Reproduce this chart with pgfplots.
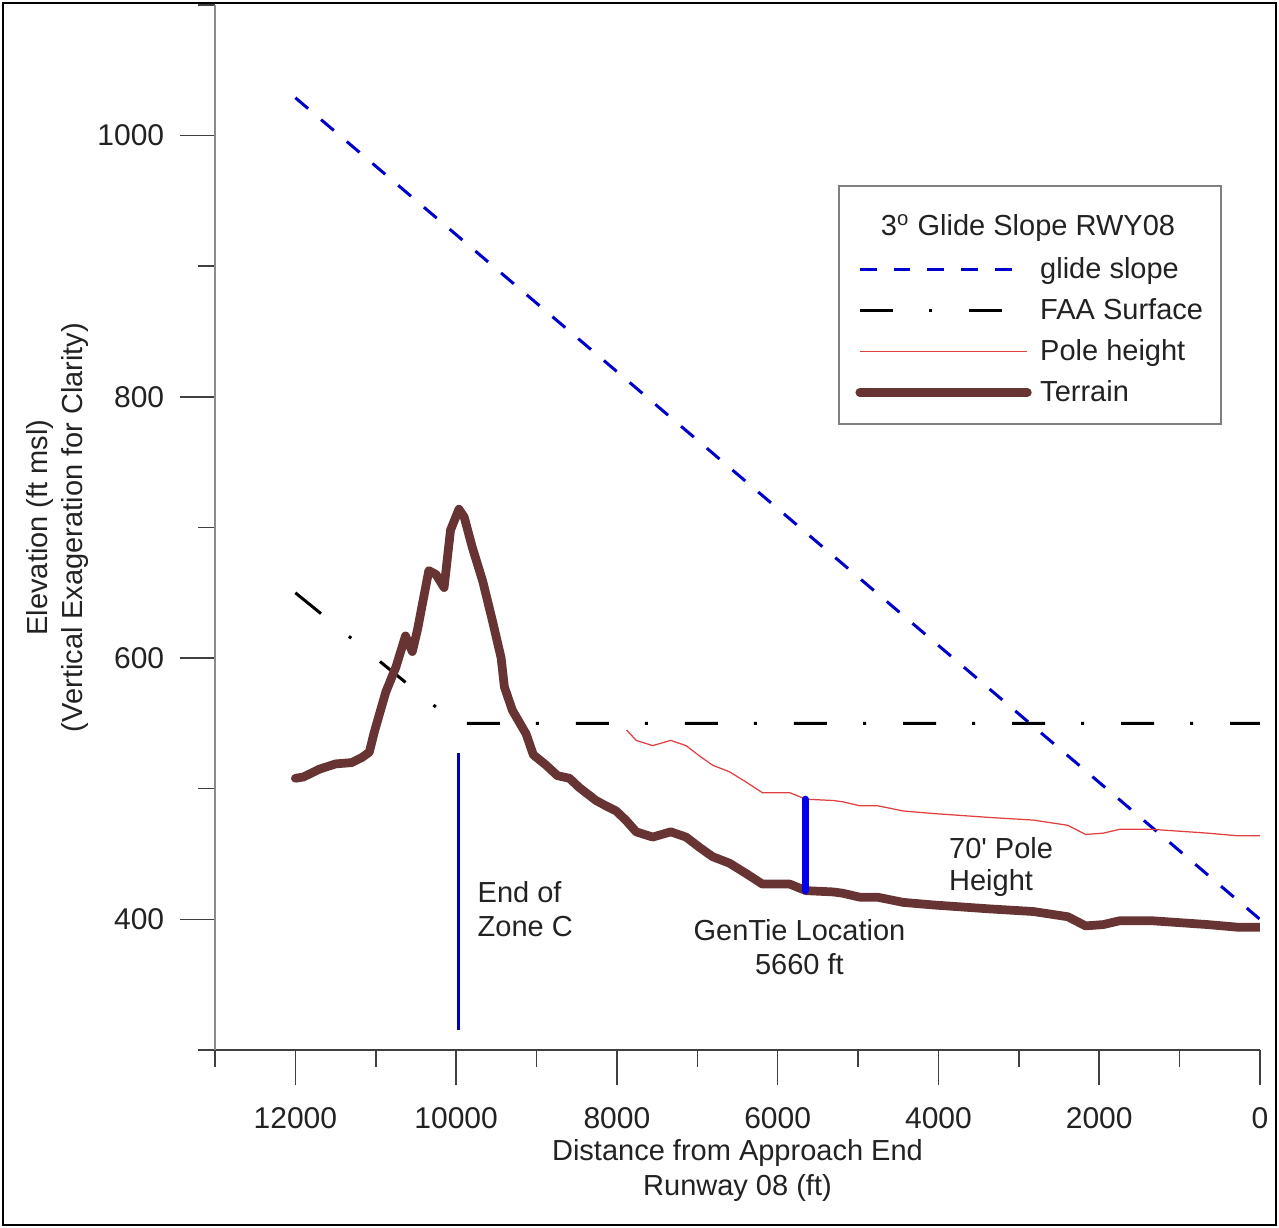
\documentclass[border=0pt]{standalone}
\usepackage{fontspec}
\setmainfont{Liberation Sans}
\usepackage{pgfplots}
\pgfplotsset{compat=1.18}
\definecolor{glide}{HTML}{0000CC}
\definecolor{terrain}{HTML}{673333}
\definecolor{pole}{HTML}{E04040}
\definecolor{gentie}{HTML}{0000EE}
\definecolor{zonec}{HTML}{0000B4}
\definecolor{framegray}{HTML}{808080}
\definecolor{txt}{HTML}{222222}

\pgfplotstableread{
x y
12000 508
11900 509
11700 515
11500 519
11300 520
11170 524
11080 528
11020 543
10950 558
10875 574
10750 593
10630 617
10545 605
10480 622
10340 667
10250 664
10150 654
10070 698
9965 714
9900 708
9800 685
9670 659
9550 629
9440 600
9400 578
9300 560
9130 542
9040 526
8880 518
8740 510
8590 508
8470 501
8260 491
8140 487
8010 483
7890 476
7760 467
7555 463
7330 467
7140 463
6970 455
6810 448
6600 443
6390 435
6190 427
5850 427
5650 422
5310 421
5190 420
4980 417
4760 417
4440 413
4060 411
3360 408
2820 406
2390 402
2170 395
1950 396
1740 399
1360 399
650 396
280 394
0 394
}\terraintable

\pgfplotstableread{
x y
7880 545
7760 537
7555 533
7330 537
7140 533
6970 525
6810 518
6600 513
6390 505
6190 497
5850 497
5650 492
5310 491
5190 490
4980 487
4760 487
4440 483
4060 481
3360 478
2820 476
2390 472
2170 465
1950 466
1740 469
1360 469
650 466
280 464
0 464
}\poletable

\begin{document}
\begin{tikzpicture}
\useasboundingbox (-86pt,-71.2pt) rectangle (425.6pt,420pt);
\draw[line width=1pt] (-84.8pt,-70pt) rectangle (424.4pt,418.8pt);
\begin{axis}[
  at={(0pt,0pt)}, anchor=south west,
  scale only axis, width=418pt, height=418pt,
  xmin=0, xmax=13000, ymin=300, ymax=1100,
  x dir=reverse,
  axis x line=bottom, axis y line=left,
  x axis line style={-, draw=black!75, line width=0.6pt},
  y axis line style={-, draw=black!45, line width=0.8pt},
  xtick={0,2000,...,12000},
  minor xtick={1000,3000,...,13000},
  ytick={400,600,800,1000},
  minor ytick={300,500,700,900,1100},
  scaled x ticks=false, scaled y ticks=false,
  tick align=outside,
  major tick length=14pt, minor tick length=6.8pt,
  every tick/.style={draw=black!75, line width=0.6pt},
  /pgf/number format/assume math mode=true,
  /pgf/number format/1000 sep={},
  tick label style={font=\fontsize{12}{14}\selectfont, text=txt},
  xticklabel style={yshift=-5.6pt},
  yticklabel style={xshift=-2.8pt},
  xlabel={Distance from Approach End\\Runway 08 (ft)},
  ylabel={Elevation (ft msl)\\(Vertical Exageration for Clarity)},
  label style={font=\fontsize{11.6}{14}\selectfont, text=txt, align=center},
  xlabel style={at={(axis description cs:0.5,-0.085)}, anchor=north, inner sep=0pt},
  ylabel style={at={(axis description cs:-0.151,0.5)}, anchor=center, inner sep=0pt},
  legend cell align=left,
  legend image code/.code={\draw[#1] (0pt,0pt) -- (67pt,0pt);},
  legend style={at={(0.61244,0.76699)}, anchor=north west, draw=none, fill=none,
    inner sep=0pt, row sep=0pt, column sep=3.4pt,
    font=\fontsize{11.6}{14}\selectfont, text=txt,
    nodes={inner sep=0pt, text height=11.8pt, text depth=4.6pt}},
]
\addplot[glide, line width=1.2pt, dash pattern=on 6.7pt off 6.81pt]
  coordinates {(12000,1029) (0,400)};
\addlegendentry{glide slope}
\addplot[black, line width=1.2pt, dash pattern=on 13.2pt off 14.4pt on 1.2pt off 14.8pt]
  coordinates {(12000,650) (10000,550) (0,550)};
\addlegendentry{FAA Surface}
\addplot[pole, line width=0.5pt] table[x=x, y=y] {\poletable};
\addlegendentry{Pole height}
\addplot[terrain, line width=3.5pt, line join=round, line cap=round] table[x=x, y=y] {\terraintable};
\addlegendentry{Terrain}
\addplot[zonec, line width=1.2pt, forget plot] coordinates {(9970,315) (9970,527)};
\addplot[gentie, line width=2.8pt, line cap=round, forget plot] coordinates {(5660,422) (5660,492)};
\begin{scope}[font=\fontsize{11.6}{14}\selectfont, text=txt, inner sep=0pt]
\node[anchor=base west] at (axis cs:9738,413) {End of};
\node[anchor=base west] at (axis cs:9738,387) {Zone C};
\node[anchor=base] at (axis cs:5729,384) {GenTie Location};
\node[anchor=base] at (axis cs:5729,358) {5660 ft};
\node[anchor=base west] at (axis cs:3873,446.5) {70\textquotesingle{} Pole};
\node[anchor=base west] at (axis cs:3873,422) {Height};
\end{scope}
\end{axis}
\draw[framegray, line width=0.6pt] (249.6pt,250.4pt) rectangle (402.4pt,345.6pt);
\node[anchor=base, inner sep=0pt, font=\fontsize{11.6}{14}\selectfont, text=txt]
  at (325.2pt,325.6pt) {3\textsuperscript{o} Glide Slope RWY08};
\end{tikzpicture}
\end{document}
